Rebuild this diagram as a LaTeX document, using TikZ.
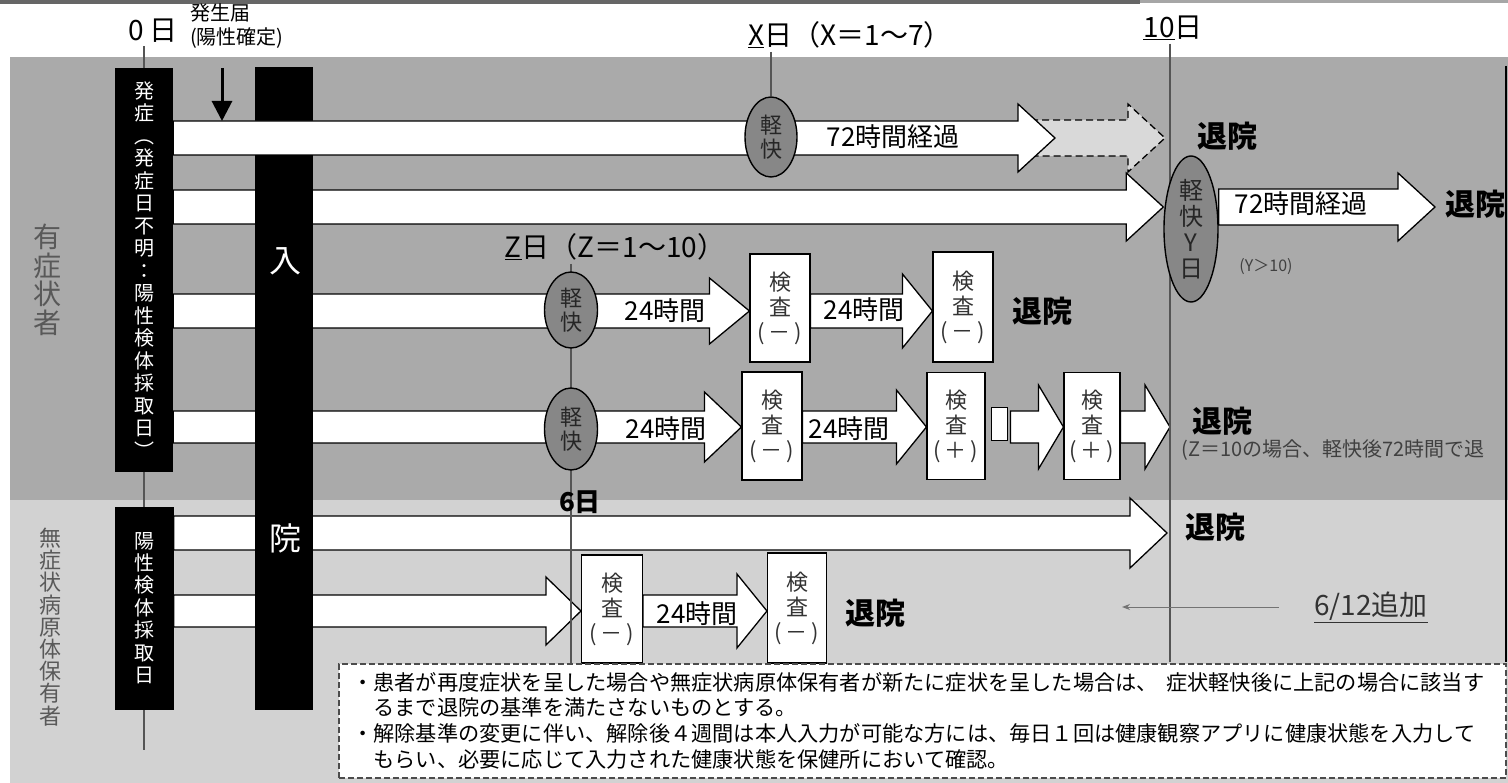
\documentclass[tikz,border=0pt]{standalone}
\usepackage{fontspec}
\setmainfont{Noto Sans CJK JP}
\usetikzlibrary{arrows.meta,shapes.geometric,calc}
\definecolor{symgray}{RGB}{170,170,170}
\definecolor{asymgray}{RGB}{210,210,210}
\definecolor{relgray}{RGB}{135,135,135}
\definecolor{linegray}{RGB}{85,85,85}
\pgfdeclarelayer{back}
\pgfdeclarelayer{mid}
\pgfsetlayers{back,mid,main}
\newcommand{\fsz}[2]{\fontsize{#1}{#2}\selectfont}
% block arrow: start, end, half body, half head, head length
\newcommand{\barrow}[6][]{%
  \draw[blockarrow,#1] let \p1=(#2), \p2=(#3) in
    (\x1,\y1+#4) -- (\x2-#6,\y1+#4) -- (\x2-#6,\y1+#5) -- (\x2,\y1)
    -- (\x2-#6,\y1-#5) -- (\x2-#6,\y1-#4) -- (\x1,\y1-#4) -- cycle;}

\begin{document}
\begin{tikzpicture}[x=1pt,y=-1pt,
  blockarrow/.style={draw=black, line width=1.3pt, fill=white, line join=miter},
  blackbar/.style={fill=black, text=white, inner sep=1pt, align=center},
  relief/.style={ellipse, draw=black, line width=1.4pt, fill=relgray, inner sep=0pt, align=center, text=black!85},
  testbox/.style={draw=black, line width=1.1pt, fill=white, inner sep=0pt, align=center, font=\fsz{22}{25}, text=black!80},
  exitlbl/.style={font=\fsz{30}{30}\bfseries},
  durlbl/.style={font=\fsz{26}{26}},
  daylbl/.style={font=\fsz{28}{28}},
  tline/.style={draw=linegray, line width=2.5pt}]
\useasboundingbox (0,0) rectangle (1508,783);
% background zones
\begin{pgfonlayer}{back}
\fill[black!60] (0,0) rectangle (1140,4);
\fill[black!35] (1140,0) rectangle (1508,3);
\fill[symgray] (10,57) rectangle (1508,500);
\fill[asymgray] (10,500) rectangle (1508,783);
\draw[line width=1.5pt] (1506,66) -- (1506,662);
\end{pgfonlayer}

% row positions
\coordinate (r1) at (0,138);
\coordinate (r2) at (0,207);
\coordinate (r3) at (0,311);
\coordinate (r4) at (0,427);
\coordinate (r5) at (0,533);
\coordinate (r6) at (0,611);

% day labels
\node[daylbl] (day0) at (153,31) {0 日};
\node[font=\fsz{20}{24}, anchor=north west, align=left, inner sep=0pt] (notify) at (190,4) {発生届\\(陽性確定)};
\node[daylbl] (xday) at (850,35) {\underline{X}日（X＝1〜7）};
\node[daylbl] (day10) at (1173,28) {\underline{10}日};
\node[daylbl] (zday) at (615,247) {\underline{Z}日（Z＝1〜10）};

% group labels
\node[font=\fsz{28}{28.5}, text=black!65, align=center] (symlbl) at (48,280) {有\\症\\状\\者};
\node[font=\fsz{22}{22.2}, text=black!65, align=center] (asymlbl) at (50,627) {無\\症\\状\\病\\原\\体\\保\\有\\者};

% black bars
\node[blackbar, minimum width=58pt, minimum height=404pt, font=\fsz{20}{22.5}] (onsetbar) at (144,270)
  {発\\症\\︵\\発\\症\\日\\不\\明\\：\\陽\\性\\検\\体\\採\\取\\日\\︶};
\node[blackbar, minimum width=59pt, minimum height=203pt, font=\fsz{20}{22.4}] (testbar) at (144,608)
  {陽\\性\\検\\体\\採\\取\\日};
\node[blackbar, minimum width=58pt, minimum height=643pt] (hospbar) at (284,388.5) {};
\node[font=\fsz{32}{32}, text=white] (hospA) at (285,261) {入};
\node[font=\fsz{32}{32}, text=white] (hospB) at (285,538) {院};

% day 0 line behind the bars
\begin{pgfonlayer}{back}
\draw[tline] (onsetbar.north |- day0.south) -- (testbar.south) -- ++(0,40);
\end{pgfonlayer}

% row 1 runs over the hospital bar
\coordinate (r1mid) at (1020,138);
\coordinate (r1tip) at (1055,138);
\coordinate (r1dash) at (1165,138);
\barrow[dash pattern=on 7pt off 4pt, fill=white!85!black]{r1mid}{r1dash}{18}{34}{37}
\barrow{onsetbar.east |- r1}{r1tip}{17}{34}{37}

% notification arrow
\coordinate (ntop) at (222,68);
\coordinate (ntip) at (222,121);
\draw[line width=3pt, -{Triangle[length=20pt,width=20pt]}] (ntop) -- (ntip);

% relief ellipses
\node[relief, minimum width=52pt, minimum height=80pt, font=\fsz{22}{24}] (xrel) at (771,137) {軽\\快};
\node[relief, minimum width=54pt, minimum height=146pt, font=\fsz{24}{26}] (yrel) at (1191,229) {軽\\快\\Y\\日};
\node[relief, minimum width=53pt, minimum height=76pt, font=\fsz{22}{24}] (zrelA) at (571,310) {軽\\快};
\node[relief, minimum width=53pt, minimum height=82pt, font=\fsz{22}{24}] (zrelB) at (571,429) {軽\\快};
\node[font=\fsz{26}{26}\bfseries] (day6) at (580,502) {6日};

% test boxes
\node[testbox, minimum width=60pt, minimum height=108pt] (zA1) at (780,308) {検\\査\\(\,－\,)};
\node[testbox, minimum width=60pt, minimum height=110pt] (zA2) at (963,307) {検\\査\\(\,－\,)};
\node[testbox, minimum width=60pt, minimum height=108pt] (zB1) at (772,426) {検\\査\\(\,－\,)};
\node[testbox, minimum width=58pt, minimum height=107pt] (zB2) at (956,426) {検\\査\\(\,＋\,)};
\node[testbox, minimum width=56pt, minimum height=107pt] (zB3) at (1092,426) {検\\査\\(\,＋\,)};
\node[testbox, minimum width=61pt, minimum height=108pt] (aT1) at (612,609) {検\\査\\(\,－\,)};
\node[testbox, minimum width=59pt, minimum height=110pt] (aT2) at (797,608) {検\\査\\(\,－\,)};
\node[draw, line width=1pt, fill=white, minimum width=16pt, minimum height=33pt, inner sep=0pt] (stripe) at (999,424) {};

% durations
\node[durlbl] (xdur) at (893,137) {72時間経過};
\node[durlbl] (ydur) at (1301,204) {72時間経過};
\node[durlbl] (zAdur1) at (665,311) {24時間};
\node[durlbl] (zAdur2) at (864,310) {24時間};
\node[durlbl] (zBdur1) at (666,429) {24時間};
\node[durlbl] (zBdur2) at (849,429) {24時間};
\node[durlbl] (adur) at (697,614) {24時間};

% discharge labels
\node[exitlbl] (exitX) at (1227,136) {退院};
\node[exitlbl] (exitY) at (1475,204) {退院};
\node[exitlbl] (exitZA) at (1042,311) {退院};
\node[exitlbl] (exitZB) at (1222,421) {退院};
\node[exitlbl] (exitA) at (1215,527) {退院};
\node[exitlbl] (exitB) at (875,613) {退院};
\node[font=\fsz{16}{16}, text=black!75] (ynote) at (1266,267) {(Y＞10)};
\node[font=\fsz{20}{20}, text=black!75, anchor=west] (znote) at (1178,450) {(Z＝10の場合、軽快後72時間で退};

% arrows and day lines under the nodes
\coordinate (r2tip) at (1435,207);
\coordinate (r4s) at ($(stripe.east)+(3,0)$);
\coordinate (r4tip) at (1170,427);
\coordinate (r5tip) at (1167,533);
\coordinate (t10) at (1170,662);
\begin{pgfonlayer}{mid}
\barrow{onsetbar.east |- r2}{yrel.west}{17}{34}{37}
\barrow{yrel.east |- r2}{r2tip}{18}{34}{37}
\barrow{onsetbar.east |- r3}{zA1.west}{17}{33}{40}
\barrow{zA1.east |- r3}{zA2.west}{17}{37}{30}
\barrow{onsetbar.east |- r4}{zB1.west}{16}{35}{37}
\barrow{zB1.east |- r4}{zB2.west}{16}{37}{30}
\barrow{r4s |- r4}{zB3.west}{16}{42}{25}
\barrow{zB3.east |- r4}{r4tip}{16}{42}{25}
\barrow{testbar.east |- r5}{r5tip}{17}{35}{37}
\barrow{testbar.east |- r6}{aT1.west}{16}{34}{35}
\barrow{aT1.east |- r6}{aT2.west}{16}{37}{30}
\draw[linegray, line width=1.5pt] (xday.south -| xrel.north) -- (xrel.north);
\draw[tline] (day10.south -| t10) -- (t10);
\draw[linegray, line width=2pt] (zday.south -| zrelA) -- (zrelA |- aT1.south);
\end{pgfonlayer}

% 6/12 addition
\node[font=\fsz{28}{28}, text=black!80] (added) at (1371,607) {\underline{6/12追加}};
\coordinate (addtip) at (1122,607);
\draw[black!55, line width=1pt, -{Stealth[length=8pt,width=6pt]}] ([xshift=-32pt]added.west) -- (addtip);

% note box
\node[draw=black!70, line width=1.5pt, dash pattern=on 6pt off 3pt, fill=white, minimum width=1167pt,
      minimum height=114pt, text width=1140pt, inner xsep=13.5pt, align=left, font=\fsz{21.2}{25.7},
      anchor=north west] (note) at (338,663)
  {・患者が再度症状を呈した場合や無症状病原体保有者が新たに症状を呈した場合は、\kern0.4em 症状軽快後に上記の場合に該当す\\
   　るまで退院の基準を満たさないものとする。\\
   ・解除基準の変更に伴い、解除後４週間は本人入力が可能な方には、毎日１回は健康観察アプリに健康状態を入力して\\
   　もらい、必要に応じて入力された健康状態を保健所において確認。};
\end{tikzpicture}
\end{document}
